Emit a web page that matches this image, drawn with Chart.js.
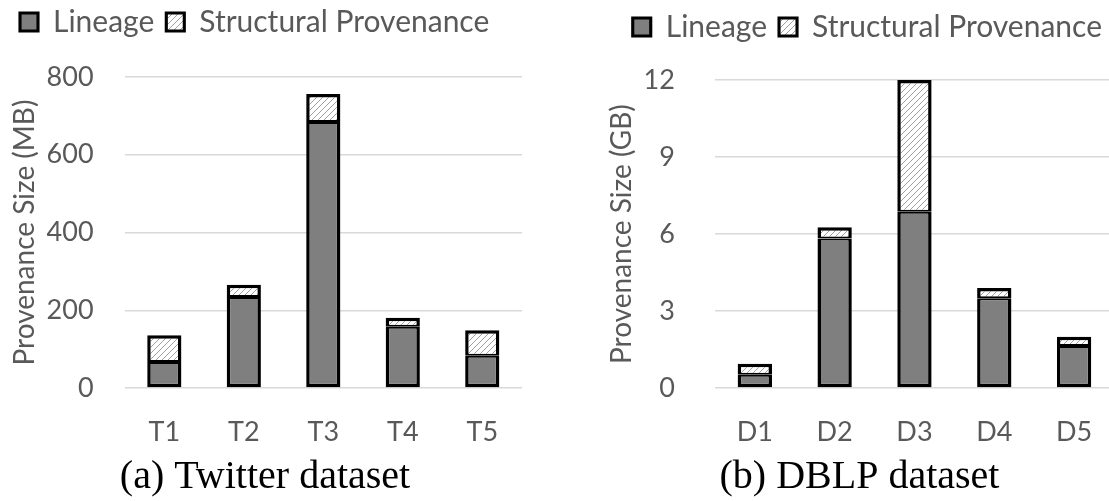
<!DOCTYPE html>
<html>
<head>
<meta charset="utf-8">
<script src="https://cdn.jsdelivr.net/npm/chart.js@4"></script>
<style>
  html, body { margin: 0; padding: 0; background: #fff; overflow: hidden; width: 1109px; height: 501px; }
  .box { position: absolute; top: 0; height: 501px; }
  #boxA { left: 0; width: 548px; }
  #boxB { left: 556px; width: 575px; }
</style>
</head>
<body>
<div class="box" id="boxA"><canvas id="chartA"></canvas></div>
<div class="box" id="boxB"><canvas id="chartB"></canvas></div>
<script>
"use strict";

// data
var twitterLabels = ["T1", "T2", "T3", "T4", "T5"];
var twitterLineage = [67, 234, 684, 158, 83];
var twitterStructural = [69, 32, 72, 23, 66];

var dblpLabels = ["D1", "D2", "D3", "D4", "D5"];
var dblpLineage = [0.52, 5.83, 6.87, 3.5, 1.64];
var dblpStructural = [0.43, 0.43, 5.13, 0.4, 0.36];

var seriesNames = ["Lineage", "Structural Provenance"];

var textGray = "#595959";
var sansFont = "Lato, 'Open Sans', sans-serif";
var serifFont = "'Liberation Serif', 'DejaVu Serif', serif";

// diagonal hatch used for the structural provenance part
function makeHatch() {
	var c = document.createElement("canvas");
	c.width = 6;
	c.height = 6;
	var g = c.getContext("2d");
	g.fillStyle = "#ffffff";
	g.fillRect(0, 0, 6, 6);
	g.strokeStyle = "#a0a0a0";
	g.lineWidth = 1;
	g.beginPath();
	g.moveTo(-1, 7); g.lineTo(7, -1);
	g.moveTo(-1, 1); g.lineTo(1, -1);
	g.moveTo(5, 7); g.lineTo(7, 5);
	g.stroke();
	return g.createPattern(c, "repeat");
}
var hatch = makeHatch();

// push the plot down below the legend
function legendSpace(extra) {
	return {
		id: "legendSpace",
		beforeInit: function (chart) {
			var orig = chart.legend.fit;
			chart.legend.fit = function () {
				orig.call(this);
				this.height += extra;
			};
		}
	};
}

function buildChart(id, labels, lineage, structural, opts) {
	var ctx = document.getElementById(id);
	return new Chart(ctx, {
		type: "bar",
		data: {
			labels: labels,
			datasets: [
				{
					label: seriesNames[0],
					data: lineage,
					backgroundColor: "#7f7f7f",
					borderColor: "#000000",
					borderWidth: { top: 2, left: 3.5, right: 3.5, bottom: 3.5 },
					borderSkipped: false,
					barPercentage: 0.43,
					categoryPercentage: 1.0
				},
				{
					label: seriesNames[1],
					data: structural,
					backgroundColor: hatch,
					borderColor: "#000000",
					borderWidth: { top: 3.5, left: 3.5, right: 3.5, bottom: 2 },
					borderSkipped: false,
					barPercentage: 0.43,
					categoryPercentage: 1.0
				}
			]
		},
		options: {
			responsive: true,
			maintainAspectRatio: false,
			animation: false,
			layout: { padding: opts.padding },
			plugins: {
				legend: {
					position: "top",
					align: opts.legendAlign,
					labels: {
						color: textGray,
						font: { family: sansFont, size: 30 },
						boxWidth: 18,
						boxHeight: 18,
						padding: 12
					}
				},
				title: {
					display: true,
					position: "bottom",
					text: opts.caption,
					color: "#000000",
					align: "center",
					font: { family: serifFont, size: 40, weight: "normal" },
					padding: { top: 4.5, bottom: 0 }
				},
				tooltip: { enabled: false }
			},
			scales: {
				x: {
					stacked: true,
					grid: { display: false, drawTicks: true, tickLength: 28 },
					border: { display: false },
					ticks: {
						color: textGray,
						font: { family: sansFont, size: 27 },
						padding: 0
					}
				},
				y: {
					stacked: true,
					min: 0,
					max: opts.max,
					ticks: {
						stepSize: opts.step,
						color: textGray,
						font: { family: sansFont, size: 27 },
						padding: 2
					},
					grid: {
						color: "#d9d9d9",
						lineWidth: 1.5,
						drawTicks: true,
						tickLength: opts.tickLen,
						tickColor: "rgba(0,0,0,0)"
					},
					border: { display: false },
					title: {
						display: true,
						text: opts.yTitle,
						color: textGray,
						font: { family: sansFont, size: 28 },
						padding: { top: 0, bottom: 3 }
					}
				}
			}
		},
		plugins: [legendSpace(opts.legendExtra)]
	});
}

buildChart("chartA", twitterLabels, twitterLineage, twitterStructural, {
	caption: "(a) Twitter dataset",
	yTitle: "Provenance Size (MB)",
	max: 800,
	step: 200,
	tickLen: 29,
	legendAlign: "start",
	legendExtra: 30,
	padding: { left: 8, right: 26, top: -5, bottom: 0 }
});

buildChart("chartB", dblpLabels, dblpLineage, dblpStructural, {
	caption: "(b) DBLP dataset",
	yTitle: "Provenance Size (GB)",
	max: 12,
	step: 3,
	tickLen: 38,
	legendAlign: "end",
	legendExtra: 28,
	padding: { left: 49, right: 17, top: 0, bottom: 0 }
});
</script>
</body>
</html>
